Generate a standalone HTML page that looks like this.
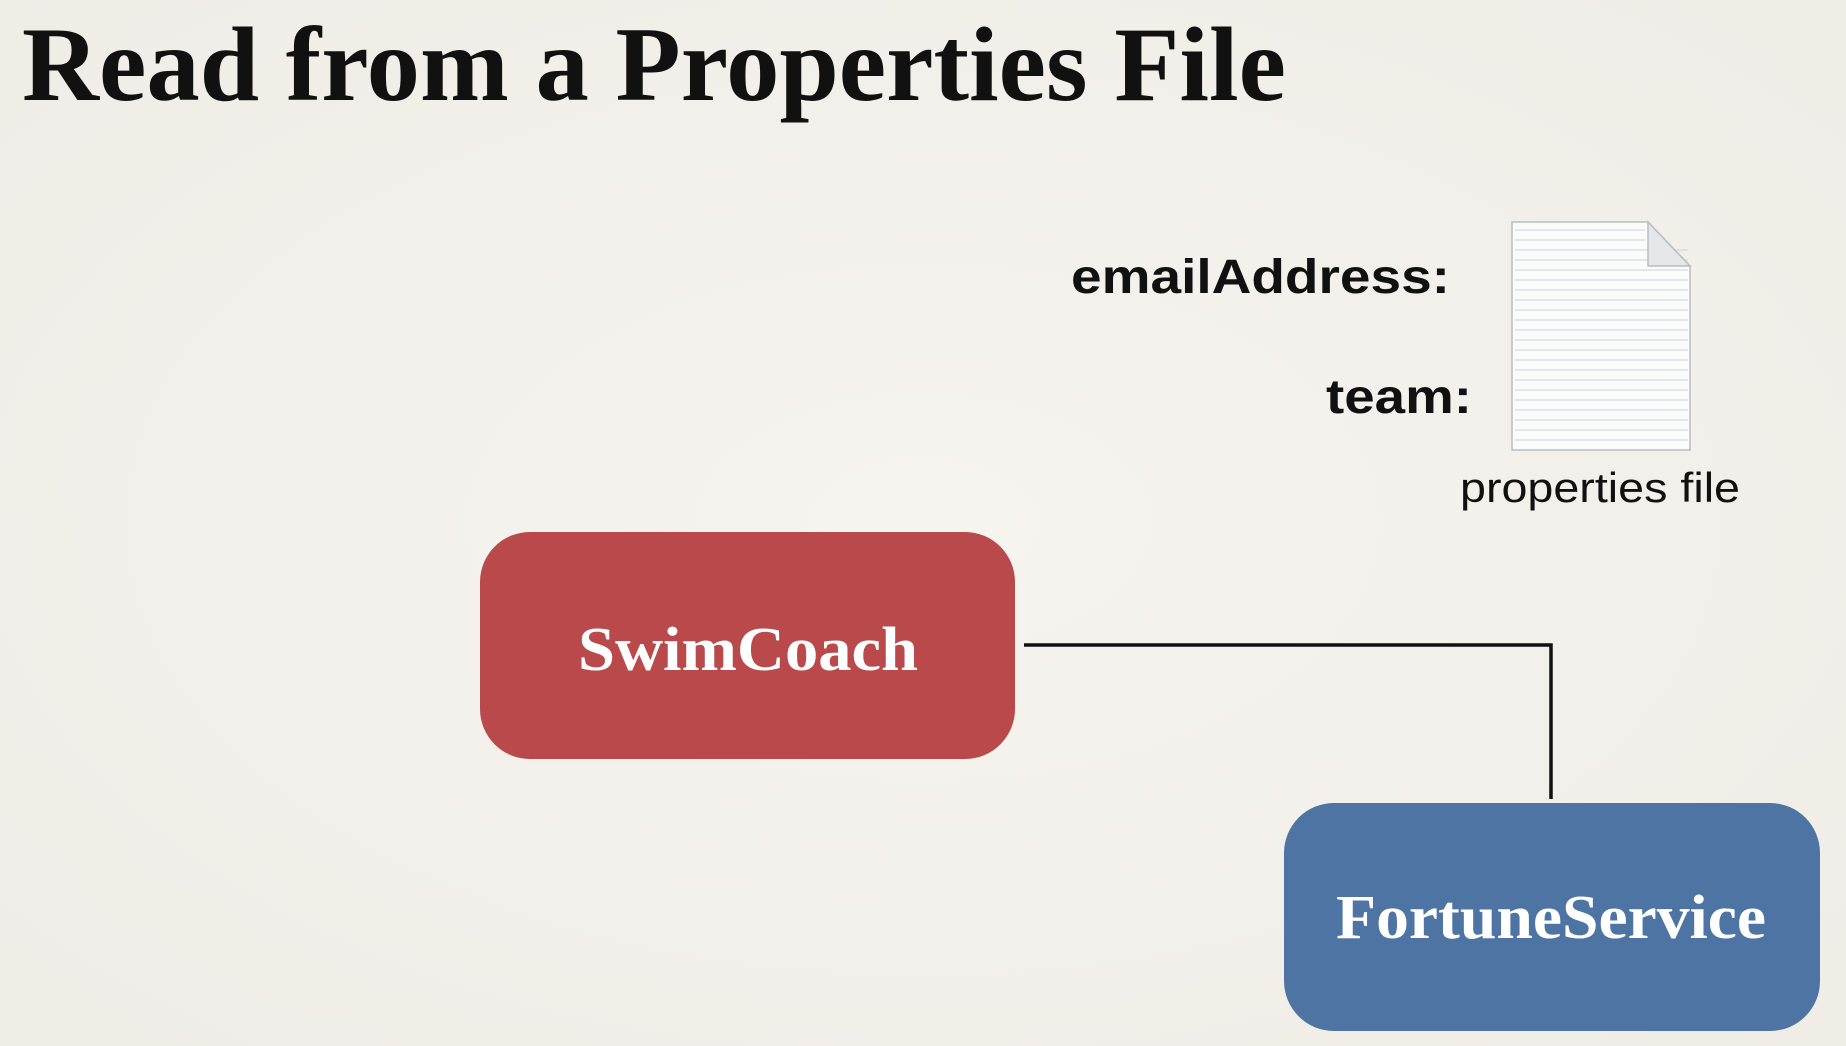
<!DOCTYPE html>
<html><head><meta charset="utf-8"><style>
html,body{margin:0;padding:0;background:#f3f1eb;}
svg{display:block}
</style></head><body>
<svg width="1846" height="1046" viewBox="0 0 1846 1046" xmlns="http://www.w3.org/2000/svg">
<defs>
<radialGradient id="bg" cx="50%" cy="50%" r="75%">
<stop offset="0" stop-color="#f6f4ef"/><stop offset="1" stop-color="#efece6"/>
</radialGradient>
</defs>
<rect width="1846" height="1046" fill="url(#bg)"/>
<text x="22" y="100" font-family="Liberation Serif, serif" font-weight="bold" font-size="106" textLength="1264" lengthAdjust="spacingAndGlyphs" fill="#111">Read from a Properties File</text>

<text x="1071" y="293" font-family="Liberation Sans, sans-serif" font-weight="bold" font-size="48" textLength="379" lengthAdjust="spacingAndGlyphs" fill="#111">emailAddress:</text>
<text x="1326" y="413" font-family="Liberation Sans, sans-serif" font-weight="bold" font-size="48" textLength="146" lengthAdjust="spacingAndGlyphs" fill="#111">team:</text>

<!-- file icon -->
<g>
<path d="M1512 222 L1648 222 L1690 266 L1690 450 L1512 450 Z" fill="#fbfbfb" stroke="#b9bcc2" stroke-width="1.5"/>
<g stroke="#c9d3e0" stroke-width="1">
<line x1="1515" y1="250" x2="1688" y2="250"/><line x1="1515" y1="260" x2="1688" y2="260"/>
<line x1="1515" y1="270" x2="1688" y2="270"/><line x1="1515" y1="280" x2="1688" y2="280"/>
<line x1="1515" y1="290" x2="1688" y2="290"/><line x1="1515" y1="300" x2="1688" y2="300"/>
<line x1="1515" y1="310" x2="1688" y2="310"/><line x1="1515" y1="320" x2="1688" y2="320"/>
<line x1="1515" y1="330" x2="1688" y2="330"/><line x1="1515" y1="340" x2="1688" y2="340"/>
<line x1="1515" y1="350" x2="1688" y2="350"/><line x1="1515" y1="360" x2="1688" y2="360"/>
<line x1="1515" y1="370" x2="1688" y2="370"/><line x1="1515" y1="380" x2="1688" y2="380"/>
<line x1="1515" y1="390" x2="1688" y2="390"/><line x1="1515" y1="400" x2="1688" y2="400"/>
<line x1="1515" y1="410" x2="1688" y2="410"/><line x1="1515" y1="420" x2="1688" y2="420"/>
<line x1="1515" y1="430" x2="1688" y2="430"/><line x1="1515" y1="440" x2="1688" y2="440"/>
<line x1="1515" y1="240" x2="1645" y2="240"/><line x1="1515" y1="230" x2="1645" y2="230"/>
</g>
<path d="M1648 222 L1648 266 L1690 266 Z" fill="#e4e6ea" stroke="#b9bcc2" stroke-width="1.5"/>
</g>
<text x="1460" y="502" font-family="Liberation Sans, sans-serif" font-size="42" textLength="280" lengthAdjust="spacingAndGlyphs" fill="#111">properties file</text>

<!-- connector -->
<path d="M1024 645 L1551 645 L1551 799" fill="none" stroke="#111" stroke-width="3.5"/>

<rect x="480" y="532" width="535" height="227" rx="50" fill="#b9494b"/>
<text x="748" y="670" text-anchor="middle" font-family="Liberation Serif, serif" font-weight="bold" font-size="62" textLength="340" lengthAdjust="spacingAndGlyphs" fill="#fff">SwimCoach</text>

<rect x="1284" y="803" width="536" height="228" rx="50" fill="#4e74a4"/>
<text x="1551" y="938" text-anchor="middle" font-family="Liberation Serif, serif" font-weight="bold" font-size="62" textLength="430" lengthAdjust="spacingAndGlyphs" fill="#fff">FortuneService</text>
</svg>
</body></html>
